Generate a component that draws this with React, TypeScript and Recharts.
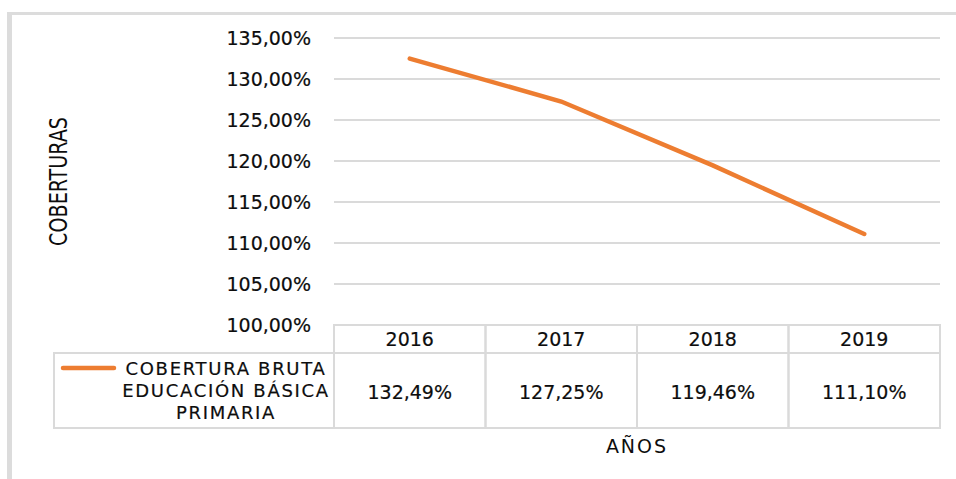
import React from 'react';
import { CartesianGrid, Label, Line, LineChart, XAxis, YAxis } from 'recharts';

const YEARS = ['2016', '2017', '2018', '2019'];
const COBERTURA = [132.49, 127.25, 119.46, 111.1];
const Y_TICKS = [100, 105, 110, 115, 120, 125, 130, 135];
const SERIES_LINES = ['COBERTURA BRUTA', 'EDUCACIÓN BÁSICA', 'PRIMARIA'];

const chartData = YEARS.map((year, i) => ({ year, value: COBERTURA[i] }));

const W = 956;
const H = 479;
const MARGIN = { top: 38, right: 16, bottom: 0, left: 0 };
const Y_AXIS_W = 334;
const X_AXIS_H = 154;
const PLOT_W = W - MARGIN.left - MARGIN.right - Y_AXIS_W;
const BAND = PLOT_W / YEARS.length;
const HEADER_H = 28;
const ROW_H = 75;
const LEGEND_W = 280;

const FONT = "'DejaVu Sans', Verdana, sans-serif";
const TEXT = '#0d0d0d';
const GRID = '#dadada';
const ORANGE = '#ED7D31';

const pct = (v: number) => v.toFixed(2).replace('.', ',') + '%';

// header + value cells of the data table, drawn under each category
const TableTick = (props: any) => {
  const { x, y, payload, index } = props;
  const left = x - BAND / 2;
  const legendLeft = left - LEGEND_W;
  return (
    <g>
      <rect x={left} y={y} width={BAND} height={HEADER_H} fill="none" stroke={GRID} strokeWidth={2} />
      <rect x={left} y={y + HEADER_H} width={BAND} height={ROW_H} fill="none" stroke={GRID} strokeWidth={2} />
      <text x={x} y={y + 21} textAnchor="middle" fontFamily={FONT} fontSize={19} fill={TEXT} stroke={TEXT} strokeWidth={0.2}>
        {payload.value}
      </text>
      <text x={x} y={y + 74} textAnchor="middle" fontFamily={FONT} fontSize={19} fill={TEXT} stroke={TEXT} strokeWidth={0.2}>
        {pct(COBERTURA[index])}
      </text>
      {index === 0 && (
        <g>
          <rect x={legendLeft} y={y + HEADER_H} width={LEGEND_W} height={ROW_H} fill="none" stroke={GRID} strokeWidth={2} />
          <line
            x1={legendLeft + 9}
            x2={legendLeft + 60}
            y1={y + 43}
            y2={y + 43}
            stroke={ORANGE}
            strokeWidth={4.5}
            strokeLinecap="round"
          />
          {SERIES_LINES.map((t, k) => (
            <text
              key={t}
              x={legendLeft + 172}
              y={y + 50 + k * 22}
              textAnchor="middle"
              fontFamily={FONT}
              fontSize={18}
              letterSpacing={1.7}
              fill={TEXT}
              stroke={TEXT}
              strokeWidth={0.2}
            >
              {t}
            </text>
          ))}
        </g>
      )}
    </g>
  );
};

const YTitle = (props: any) => {
  const { viewBox } = props;
  const cy = viewBox.y + viewBox.height / 2;
  const cx = 67;
  return (
    <text
      x={cx}
      y={cy}
      transform={`rotate(-90, ${cx}, ${cy})`}
      textAnchor="middle"
      fontFamily="'DejaVu Sans Condensed', 'Liberation Sans Narrow', sans-serif"
      fontSize={24}
      textLength={129}
      lengthAdjust="spacingAndGlyphs"
      fill={TEXT}
    >
      COBERTURAS
    </text>
  );
};

export default function App() {
  return (
    <div style={{ position: 'fixed', left: 0, top: 0, width: W, height: H, background: '#fff' }}>
      <div
        style={{
          position: 'absolute',
          left: 7,
          top: 12,
          right: -10,
          bottom: -10,
          borderLeft: '5px solid #dcdcdc',
          borderTop: '3px solid #dcdcdc',
        }}
      />
      <div style={{ position: 'absolute', left: 0, top: 0 }}>
        <LineChart width={W} height={H} data={chartData} margin={MARGIN}>
          <CartesianGrid vertical={false} stroke={GRID} strokeWidth={2} />
          <XAxis
            dataKey="year"
            scale="band"
            height={X_AXIS_H}
            axisLine={false}
            tickLine={false}
            tickSize={0}
            tickMargin={0}
            interval={0}
            tick={<TableTick />}
          >
            <Label
              value="AÑOS"
              position="insideBottom"
              offset={26}
              style={{ fontFamily: FONT, fontSize: 19, fill: TEXT, letterSpacing: 2 }}
            />
          </XAxis>
          <YAxis
            type="number"
            width={Y_AXIS_W}
            domain={[100, 135]}
            ticks={Y_TICKS}
            interval={0}
            axisLine={false}
            tickLine={false}
            tickSize={0}
            tickMargin={23}
            tickFormatter={(v: number) => `${v},00%`}
            tick={{ fontFamily: FONT, fontSize: 19, fill: TEXT, stroke: TEXT, strokeWidth: 0.2 }}
          >
            <Label content={<YTitle />} />
          </YAxis>
          <Line
            type="linear"
            dataKey="value"
            stroke={ORANGE}
            strokeWidth={4.5}
            strokeLinecap="round"
            dot={false}
            isAnimationActive={false}
          />
        </LineChart>
      </div>
    </div>
  );
}
